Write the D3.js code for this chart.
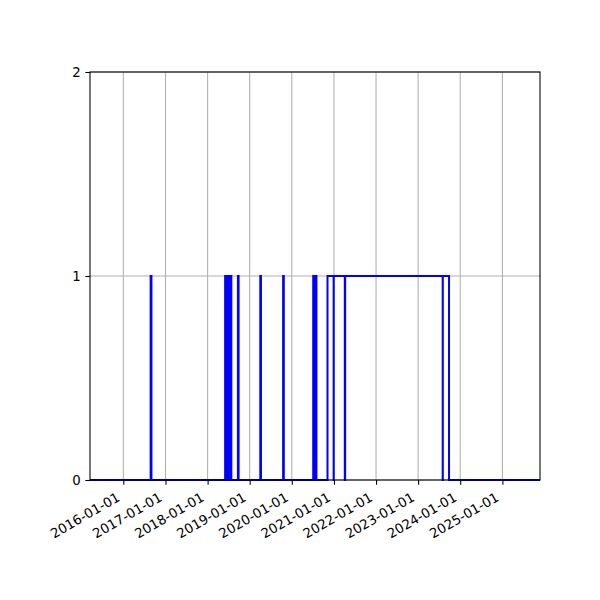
<!DOCTYPE html>
<html>
<head>
<meta charset="utf-8">
<script src="https://cdn.jsdelivr.net/npm/d3@7"></script>
<style>
  body { margin: 0; background: #fff; }
  text { font-family: "DejaVu Sans", sans-serif; font-size: 13.3px; fill: #000; }
</style>
</head>
<body>
<script>
// step changes: value holds from this date until the next one
var changeDates = ["2015-03-18", "2016-08-25", "2016-09-01", "2018-06-02", "2018-06-08",
  "2018-06-19", "2018-06-25", "2018-07-07", "2018-07-13", "2018-07-20", "2018-07-26",
  "2018-09-21", "2018-09-27", "2019-04-03", "2019-04-09", "2019-10-18", "2019-10-24",
  "2020-07-05", "2020-07-11", "2020-07-27", "2020-08-02", "2020-11-06", "2020-12-29",
  "2020-12-30", "2021-04-05", "2021-04-08", "2023-08-02", "2023-08-03", "2023-09-26",
  "2025-11-23"];
var changeValues = [0, 1, 0, 1, 0,
  1, 0, 1, 0, 1, 0,
  1, 0, 1, 0, 1, 0,
  1, 0, 1, 0, 1, 0,
  1, 0, 1, 0, 1, 0,
  0];
var xTickDates = ["2016-01-01", "2017-01-01", "2018-01-01", "2019-01-01", "2020-01-01",
  "2021-01-01", "2022-01-01", "2023-01-01", "2024-01-01", "2025-01-01"];
var yTickValues = [0, 1, 2];

var parse = d3.timeParse("%Y-%m-%d");
var fmt = d3.timeFormat("%Y-%m-%d");

var margin = {top: 72, left: 90, right: 60, bottom: 120};
var width = 600 - margin.left - margin.right;
var height = 600 - margin.top - margin.bottom;

var data = changeDates.map(function(d, i){ return {date: parse(d), value: changeValues[i]}; });

var svg = d3.select("body").append("svg")
  .attr("width", 600)
  .attr("height", 600);
svg.append("rect").attr("width", 600).attr("height", 600).attr("fill", "#fff");

var g = svg.append("g").attr("transform", "translate(" + margin.left + "," + margin.top + ")");

var x = d3.scaleTime()
  .domain(d3.extent(data, function(d){ return d.date; }))
  .range([0, width]);
var y = d3.scaleLinear().domain([0, 2]).range([height, 0]);

// grid
g.selectAll(".vgrid").data(xTickDates.map(parse)).enter().append("line")
  .attr("class", "vgrid")
  .attr("x1", function(d){ return x(d); }).attr("x2", function(d){ return x(d); })
  .attr("y1", 0).attr("y2", height)
  .attr("stroke", "#b0b0b0").attr("stroke-width", 1.07);
g.selectAll(".hgrid").data(yTickValues).enter().append("line")
  .attr("class", "hgrid")
  .attr("x1", 0).attr("x2", width)
  .attr("y1", function(d){ return y(d); }).attr("y2", function(d){ return y(d); })
  .attr("stroke", "#b0b0b0").attr("stroke-width", 1.07);

// step line
var line = d3.line()
  .x(function(d){ return x(d.date); })
  .y(function(d){ return y(d.value); })
  .curve(d3.curveStepAfter);
g.append("path").datum(data)
  .attr("d", line)
  .attr("fill", "none")
  .attr("stroke", "#0000ff")
  .attr("stroke-width", 2);

// axes
var xAxis = g.append("g").attr("transform", "translate(0," + height + ")")
  .call(d3.axisBottom(x).tickValues(xTickDates.map(parse)).tickFormat(fmt).tickSize(4.7).tickPadding(0));
xAxis.select(".domain").remove();
xAxis.selectAll("line").attr("stroke", "#000").attr("stroke-width", 1.07);
xAxis.selectAll("text")
  .attr("font-size", "13.3px")
  .attr("font-family", "DejaVu Sans")
  .style("text-anchor", "end")
  .attr("dy", null)
  .attr("y", null)
  .attr("x", null)
  .attr("transform", "translate(-3,20) rotate(-30)");

var yAxis = g.append("g")
  .call(d3.axisLeft(y).tickValues(yTickValues).tickFormat(d3.format("d")).tickSize(4.7).tickPadding(4.7));
yAxis.select(".domain").remove();
yAxis.selectAll("line").attr("stroke", "#000").attr("stroke-width", 1.07);
yAxis.selectAll("text").attr("font-size", "13.3px").attr("font-family", "DejaVu Sans");

// frame
g.append("rect")
  .attr("width", width).attr("height", height)
  .attr("fill", "none").attr("stroke", "#000").attr("stroke-width", 1.07);
</script>
</body>
</html>
